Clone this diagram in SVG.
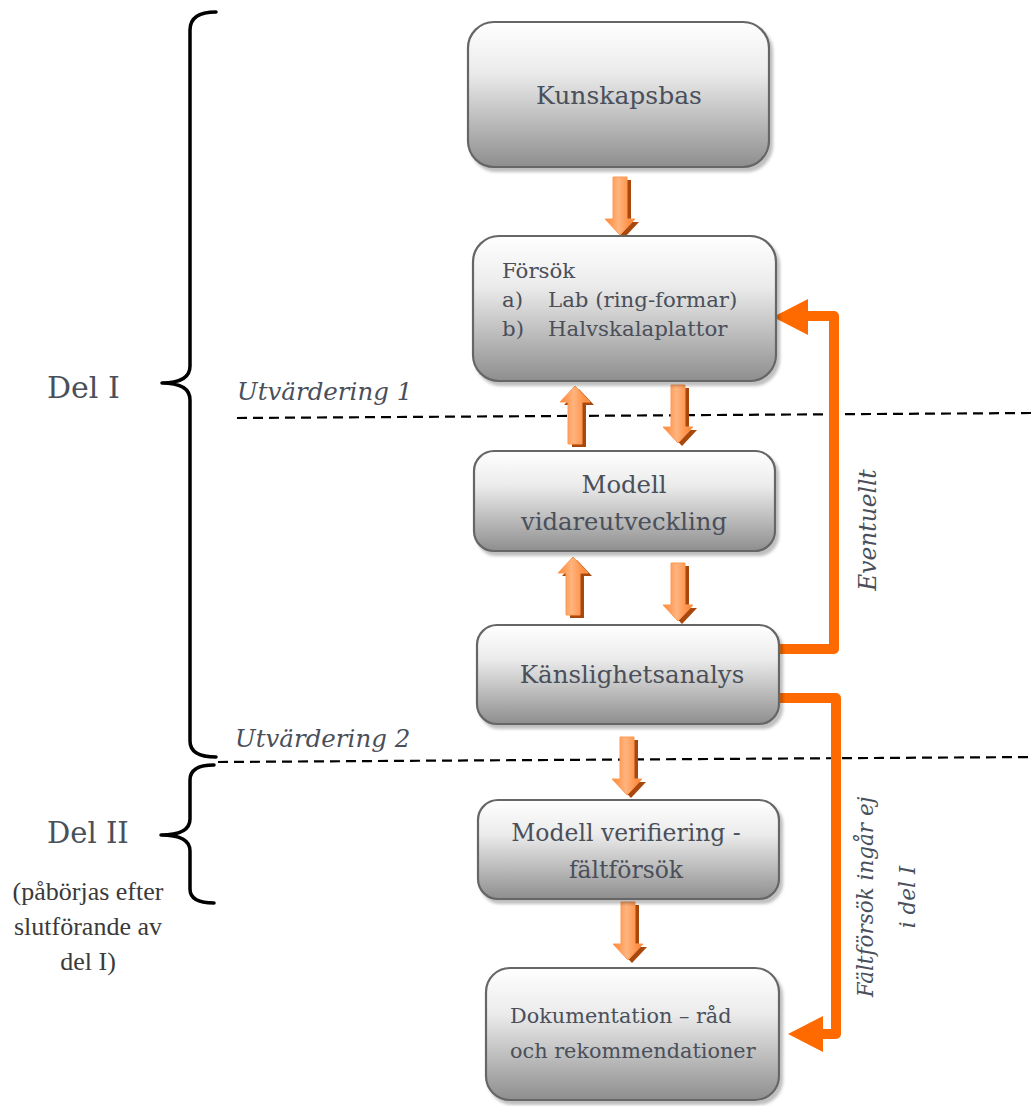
<svg xmlns="http://www.w3.org/2000/svg" xmlns:xlink="http://www.w3.org/1999/xlink" width="1033" height="1106" viewBox="0 0 1033 1106">
<style>
.box{fill:url(#boxGrad);stroke:#666;stroke-width:2.2;filter:url(#shadow)}
.bt{font-family:"DejaVu Serif","Liberation Serif",serif;fill:#4a4f5a}
.it{font-family:"DejaVu Serif","Liberation Serif",serif;font-style:italic;fill:#4a4f5a}
.tn{font-family:"Liberation Serif","Times New Roman",serif;fill:#3a3a3a}
.dash{stroke:#000;stroke-width:2.2;stroke-dasharray:10 6;fill:none}
.brace{stroke:#000;stroke-width:3.5;fill:none;stroke-linecap:round;stroke-linejoin:round}
.conn{stroke:#ff6a00;stroke-width:10;fill:none;stroke-linejoin:round}
.head{fill:#ff6a00}
</style>
<defs>
<linearGradient id="boxGrad" x1="0" y1="0" x2="0" y2="1">
<stop offset="0" stop-color="#ffffff"/>
<stop offset="0.35" stop-color="#ebebeb"/>
<stop offset="1" stop-color="#8e8e8e"/>
</linearGradient>
<linearGradient id="arrGrad" x1="0" y1="0" x2="1" y2="0">
<stop offset="0" stop-color="#ff8432"/>
<stop offset="0.45" stop-color="#ffb47e"/>
<stop offset="1" stop-color="#ff7e2a"/>
</linearGradient>
<filter id="shadow" x="-10%" y="-10%" width="125%" height="125%">
<feDropShadow dx="3" dy="4" stdDeviation="1.5" flood-color="#000" flood-opacity="0.25"/>
</filter>
<g id="arrDown">
<path d="M-3,3 H11 V45 H19 L4,61 L-11,45 H-3 Z" fill="#a8480c"/>
<path d="M-7,0 H7 V42 H15 L0,58 L-15,42 H-7 Z" fill="url(#arrGrad)" stroke="#ff9a55" stroke-width="1"/>
</g>
<g id="arrUp">
<path d="M-3,61 H11 V19 H19 L4,3 L-11,19 H-3 Z" fill="#a8480c"/>
<path d="M-7,58 H7 V16 H15 L0,0 L-15,16 H-7 Z" fill="url(#arrGrad)" stroke="#ff9a55" stroke-width="1"/>
</g>
</defs>
<rect width="1033" height="1106" fill="#ffffff"/>

<g id="dividers">
<line class="dash" x1="237" y1="418" x2="1033" y2="413"/>
<line class="dash" x1="218" y1="762" x2="1033" y2="757"/>
<text class="it" x="237" y="400" font-size="24.5">Utvärdering 1</text>
<text class="it" x="235" y="747" font-size="24.5">Utvärdering 2</text>
</g>

<g id="braces">
<path class="brace" d="M216,12 Q190,12 190,30 V366 Q190,383 162,383 Q190,383 190,400 V741 Q190,757 216,757"/>
<path class="brace" d="M214,765 Q190,765 190,780 V819 Q190,835 161,835 Q190,835 190,851 V889 Q190,903 214,903"/>
<text class="bt" x="47" y="398" font-size="30">Del I</text>
<text class="bt" x="47" y="843" font-size="29">Del II</text>
<text class="tn" font-size="26" text-anchor="middle"><tspan x="88" y="900">(påbörjas efter</tspan><tspan x="88" y="935">slutförande av</tspan><tspan x="88" y="970">del I)</tspan></text>
</g>

<g id="connectors">
<use xlink:href="#arrDown" x="620" y="177"/>
<use xlink:href="#arrUp" x="575" y="386"/>
<use xlink:href="#arrDown" x="678" y="385"/>
<use xlink:href="#arrUp" x="573" y="557"/>
<use xlink:href="#arrDown" x="678" y="563"/>
<use xlink:href="#arrDown" x="627" y="737"/>
<use xlink:href="#arrDown" x="628" y="902"/>
<path class="conn" d="M779,649 H834 V316 H805"/>
<polygon class="head" points="773,317 808,299 808,335"/>
<path class="conn" d="M779,698 H836 V1034 H818"/>
<polygon class="head" points="788,1034 823,1016 823,1052"/>
<text class="it" font-size="23.3" text-anchor="middle" transform="translate(876,530) rotate(-90)">Eventuellt</text>
<text class="it" font-size="21.5" text-anchor="middle" transform="translate(873,897) rotate(-90)">Fältförsök ingår ej</text>
<text class="it" font-size="21.5" text-anchor="middle" transform="translate(915,897) rotate(-90)">i del I</text>
</g>

<g id="kunskapsbas">
<rect class="box" x="468" y="22" width="301" height="145" rx="26"/>
<text class="bt" x="619" y="104" font-size="25" text-anchor="middle">Kunskapsbas</text>
</g>

<g id="forsok">
<rect class="box" x="473" y="236" width="303" height="145" rx="26"/>
<text class="bt" font-size="21.3"><tspan x="502" y="278">Försök</tspan><tspan x="502" y="307">a)</tspan><tspan x="548" y="307">Lab (ring-formar)</tspan><tspan x="502" y="336">b)</tspan><tspan x="548" y="336">Halvskalaplattor</tspan></text>
</g>

<g id="modell">
<rect class="box" x="474" y="451" width="301" height="100" rx="20"/>
<text class="bt" font-size="24.3" text-anchor="middle"><tspan x="624" y="493">Modell</tspan><tspan x="624" y="530">vidareutveckling</tspan></text>
</g>

<g id="kanslighet">
<rect class="box" x="477" y="625" width="302" height="99" rx="20"/>
<text class="bt" x="632" y="683" font-size="24.5" text-anchor="middle">Känslighetsanalys</text>
</g>

<g id="verifiering">
<rect class="box" x="478" y="800" width="301" height="99" rx="20"/>
<text class="bt" font-size="23.5" text-anchor="middle"><tspan x="626" y="841">Modell verifiering -</tspan><tspan x="626" y="878">fältförsök</tspan></text>
</g>

<g id="dokumentation">
<rect class="box" x="486" y="968" width="293" height="132" rx="24"/>
<text class="bt" font-size="20.8"><tspan x="510" y="1023">Dokumentation – råd</tspan><tspan x="510" y="1058">och rekommendationer</tspan></text>
</g>
</svg>
